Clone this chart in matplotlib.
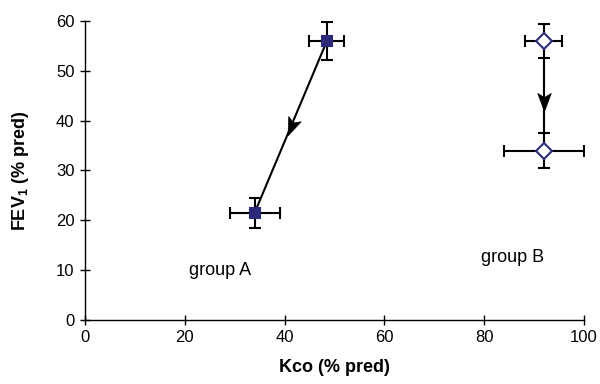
import matplotlib
matplotlib.use("Agg")
import numpy as np
import matplotlib.pyplot as plt
from matplotlib.path import Path
from matplotlib.markers import MarkerStyle
from matplotlib.transforms import Affine2D

plt.rcParams['font.family'] = ['Liberation Sans', 'DejaVu Sans']
plt.rcParams['mathtext.fontset'] = 'custom'
plt.rcParams['mathtext.rm'] = 'Liberation Sans'
plt.rcParams['mathtext.bf'] = 'Liberation Sans:bold'

# Group A (filled squares): before -> after
a_x = [48.5, 34.0]
a_y = [56.0, 21.5]
a_xerr = [3.5, 5.0]
a_yerr = [3.8, 3.0]
# Group B (open diamonds)
b_x = [92.0, 92.0]
b_y = [56.0, 34.0]
b_xerr = [3.7, 8.0]
b_yerr = [3.4, 3.5]

navy = '#2a2a78'

fig = plt.figure(figsize=(6.0, 3.84), dpi=100)
ax = fig.add_axes([0.1417, 0.1667, 0.8313, 0.7786])
ax.set_xlim(0, 100)
ax.set_ylim(0, 60)

head = Path([(1.0, 0.0), (-1.0, 0.75), (-0.55, 0.0), (-1.0, -0.75), (1.0, 0.0)],
            [Path.MOVETO, Path.LINETO, Path.LINETO, Path.LINETO, Path.CLOSEPOLY])

def draw_group(xs, ys, xerr, yerr, marker, face, t):
    ax.errorbar(xs, ys, xerr=xerr, yerr=yerr, fmt='none', ecolor='black',
                elinewidth=1.5, capsize=4.5, capthick=1.5, zorder=2)
    ax.plot(xs, ys, color='black', lw=1.5, zorder=3)
    p0 = ax.transData.transform((xs[0], ys[0]))
    p1 = ax.transData.transform((xs[1], ys[1]))
    ang = np.degrees(np.arctan2(p1[1] - p0[1], p1[0] - p0[0]))
    hx = xs[0] + t * (xs[1] - xs[0])
    hy = ys[0] + t * (ys[1] - ys[0])
    ms = MarkerStyle(head, transform=Affine2D().rotate_deg(ang))
    ax.plot([hx], [hy], linestyle='none', marker=ms, markersize=13,
            color='black', markeredgewidth=0.5, zorder=4)
    ax.plot(xs, ys, linestyle='none', marker=marker, markersize=7 if marker == 's' else 8,
            markerfacecolor=face, markeredgecolor=navy, markeredgewidth=1.5, zorder=5)

draw_group(a_x, a_y, a_xerr, a_yerr, 's', navy, 0.50)
draw_group(b_x, b_y, b_xerr, b_yerr, 'D', 'white', 0.56)

ax.text(27, 10, 'group A', fontsize=13, ha='center', va='center')
ax.text(85.8, 12.6, 'group B', fontsize=13, ha='center', va='center')

ax.set_xticks(range(0, 101, 20))
ax.set_yticks(range(0, 61, 10))
for s in ['top', 'right']:
    ax.spines[s].set_visible(False)
for s in ['left', 'bottom']:
    ax.spines[s].set_linewidth(1.0)
ax.tick_params(direction='inout', length=7, width=1.0, labelsize=12, pad=4)
ax.set_xlabel('Kco (% pred)', fontsize=13, fontweight='bold')
ax.set_ylabel(r'FEV$_\mathbf{1}$ (% pred)', fontsize=13, fontweight='bold')
ax.xaxis.set_label_coords(0.5, -0.132)
ax.yaxis.set_label_coords(-0.108, 0.5)

fig.savefig('out.png', dpi=100)
